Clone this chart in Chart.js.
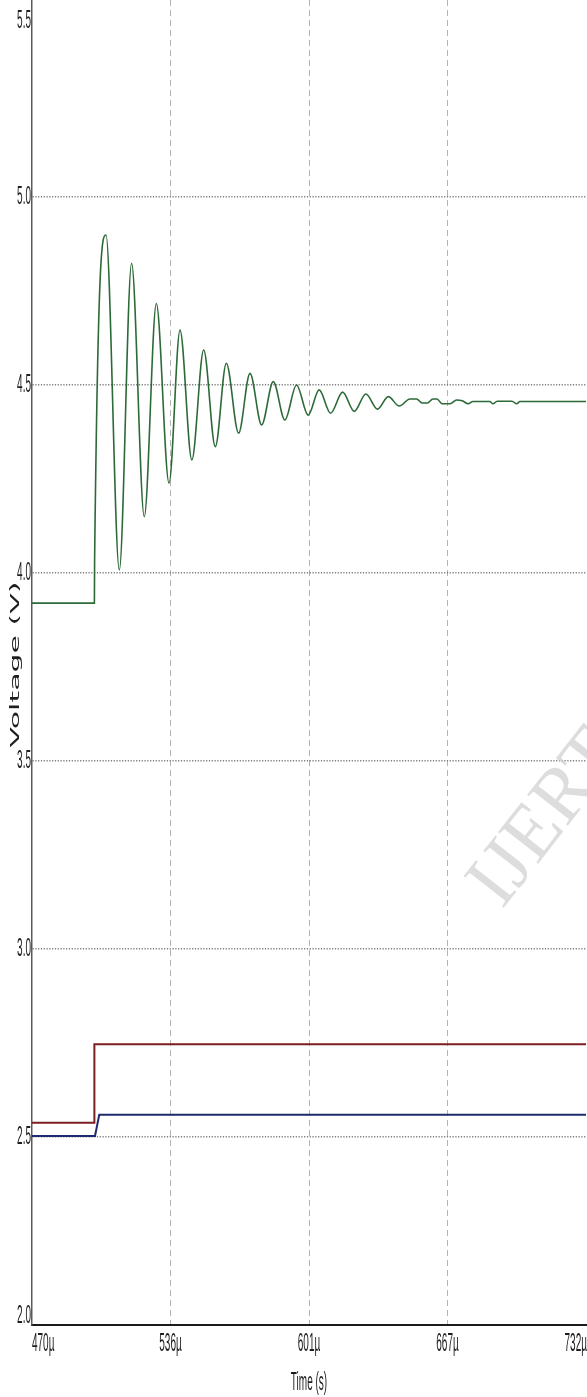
<!DOCTYPE html>
<html>
<head>
<meta charset="utf-8">
<script src="https://cdn.jsdelivr.net/npm/chart.js@4"></script>
<style>
  html, body { margin: 0; padding: 0; background: #fff; }
  #wrap { width: 587px; height: 1397px; position: relative; }
</style>
</head>
<body>
<div id="wrap"><canvas id="c"></canvas></div>
<script>
// Time axis (microseconds) and voltage axis ticks
const timeTicks = [470, 535.5, 601, 666.5, 732];
const timeLabels = ['470µ', '536µ', '601µ', '667µ', '732µ'];
const voltTicks = [2.0, 2.5, 3.0, 3.5, 4.0, 4.5, 5.0, 5.5];
const voltLabels = ['2.0', '2.5', '3.0', '3.5', '4.0', '4.5', '5.0', '5.5'];

// Output voltage: step at ~500µs followed by a damped ringing
const greenTime = [470, 499.5, 499.6, 505.0, 511.3, 517.1, 523.1, 528.8, 534.8, 540.0, 545.6,
  551.2, 556.7, 561.9, 567.7, 573.1, 578.6, 584.1, 589.6, 595.1, 600.6, 605.8, 611.2, 616.9,
  622.4, 627.9, 633.4, 638.5, 643.7, 648.7, 651.9, 654.5, 657.0, 659.6, 661.5, 664.0, 667.7,
  670.8, 673.5, 676.3, 678.5, 686.5, 688.0, 690.0, 697.0, 699.2, 700.8, 732];
const greenVolt = [3.92, 3.92, 4.03, 4.899, 4.008, 4.824, 4.150, 4.717, 4.239, 4.646, 4.301,
  4.593, 4.336, 4.558, 4.372, 4.531, 4.394, 4.509, 4.407, 4.500, 4.420, 4.487, 4.425, 4.481,
  4.430, 4.476, 4.436, 4.469, 4.444, 4.463, 4.463, 4.452, 4.452, 4.463, 4.463, 4.450, 4.450,
  4.460, 4.458, 4.450, 4.456, 4.456, 4.450, 4.457, 4.457, 4.450, 4.456, 4.456];

// Reference voltage step
const redTime = [470, 499.5, 499.5, 732];
const redVolt = [2.538, 2.538, 2.747, 2.747];

// Sensed voltage step
const blueTime = [470, 499.8, 501.8, 732];
const blueVolt = [2.503, 2.503, 2.559, 2.559];

const pts = (xs, ys) => xs.map((x, i) => ({ x, y: ys[i] }));

// Squeezed-text helper: the axis lettering is tall and narrow
function narrowText(ctx, text, x, y, opts) {
  ctx.save();
  ctx.translate(x, y);
  ctx.scale(opts.sx || 1, 1);
  if (opts.rotate) ctx.rotate(opts.rotate);
  ctx.font = opts.font;
  ctx.fillStyle = opts.color || '#1e1e1e';
  ctx.textAlign = opts.align || 'center';
  ctx.textBaseline = 'middle';
  ctx.fillText(text, 0, 0);
  ctx.restore();
}

const axisText = {
  id: 'axisText',
  beforeDatasetsDraw(chart) {
    // faint diagonal watermark
    const ctx = chart.ctx;
    ctx.save();
    ctx.translate(502, 910);
    ctx.rotate(-52 * Math.PI / 180);
    ctx.font = '78px "Liberation Serif"';
    ctx.fillStyle = 'rgba(210,210,210,0.75)';
    ctx.textBaseline = 'alphabetic';
    ctx.fillText('IJERT', 0, 0);
    ctx.restore();
  },
  afterDraw(chart) {
    const ctx = chart.ctx;
    const xs = chart.scales.x, ys = chart.scales.y;
    const area = chart.chartArea;
    const tickFont = '25px "Liberation Sans"';
    const sx = 0.4;

    ctx.save();
    ctx.font = tickFont;
    xs.ticks.forEach((t, i) => {
      const label = timeLabels[i];
      const w = ctx.measureText(label).width * sx;
      let px = xs.getPixelForValue(t.value);
      px = Math.min(Math.max(px, area.left + w / 2), area.right + 1 - w / 2);
      narrowText(ctx, label, px, area.bottom + 19, { font: tickFont, sx });
    });
    ys.ticks.forEach((t, i) => {
      let py = ys.getPixelForValue(t.value);
      py = Math.min(Math.max(py, area.top + 21), area.bottom - 9);
      narrowText(ctx, voltLabels[i], area.left - 1, py, { font: tickFont, sx, align: 'right' });
    });
    ctx.restore();

    narrowText(ctx, 'Time (s)', (area.left + area.right) / 2, area.bottom + 58,
      { font: '25px "Liberation Sans"', sx });
    narrowText(ctx, 'Voltage (V)', 16, (area.top + area.bottom) / 2 + 2,
      { font: '30px "DejaVu Sans"', sx, rotate: -Math.PI / 2 });
  }
};

new Chart(document.getElementById('c'), {
  type: 'line',
  data: {
    datasets: [
      {
        data: pts(redTime, redVolt),
        borderColor: '#7d1d22',
        borderWidth: 2,
        pointRadius: 0,
        tension: 0
      },
      {
        data: pts(blueTime, blueVolt),
        borderColor: '#1f2a6e',
        borderWidth: 2,
        pointRadius: 0,
        tension: 0
      },
      {
        data: pts(greenTime, greenVolt),
        borderColor: '#2c6a38',
        borderWidth: 1.6,
        pointRadius: 0,
        cubicInterpolationMode: 'monotone'
      }
    ]
  },
  plugins: [axisText],
  options: {
    responsive: true,
    maintainAspectRatio: false,
    animation: false,
    layout: { padding: { top: 0, right: 1, bottom: 0, left: 0 } },
    plugins: { legend: { display: false }, tooltip: { enabled: false } },
    scales: {
      x: {
        type: 'linear',
        min: 470,
        max: 732,
        afterBuildTicks: (s) => { s.ticks = timeTicks.map(v => ({ value: v })); },
        afterFit: (s) => { s.height = 72; },
        ticks: { display: false },
        grid: {
          drawTicks: false,
          lineWidth: 1,
          color: (c) => (c.tick && (c.tick.value === 470 || c.tick.value === 732)) ? 'rgba(0,0,0,0)' : '#b4b4b4'
        },
        border: { display: true, color: '#1a1a1a', width: 2, dash: [6, 4] }
      },
      y: {
        type: 'linear',
        min: 2.0,
        max: 5.524,
        afterBuildTicks: (s) => { s.ticks = voltTicks.map(v => ({ value: v })); },
        afterFit: (s) => { s.width = 32; },
        ticks: { display: false },
        grid: {
          drawTicks: false,
          lineWidth: 1.5,
          color: (c) => (c.tick && (c.tick.value === 2.0 || c.tick.value === 5.5)) ? 'rgba(0,0,0,0)' : '#7a7a7a'
        },
        border: { display: true, color: '#5a5a5a', width: 1.5, dash: [1.2, 1.6] }
      }
    }
  }
});
</script>
</body>
</html>
